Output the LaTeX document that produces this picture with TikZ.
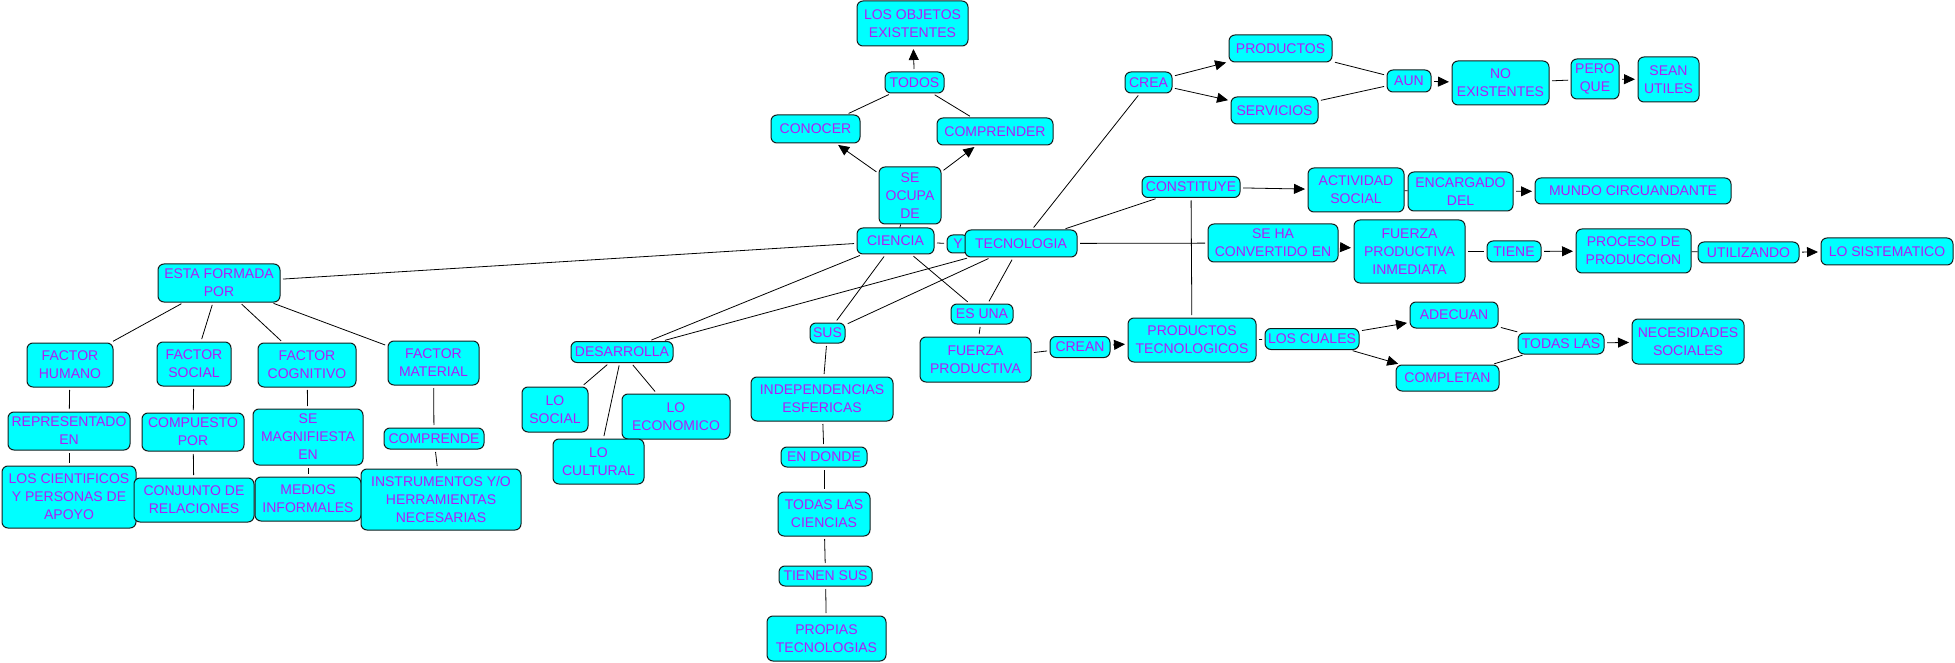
\documentclass[tikz,border=0pt]{standalone}
\usepackage{fontspec}
\setmainfont{Liberation Sans}
\usetikzlibrary{arrows.meta}
\definecolor{txtpurple}{RGB}{175,30,245}
\definecolor{boxfill}{RGB}{0,255,255}
\definecolor{boxline}{RGB}{20,30,30}
\tikzset{
  box/.style={draw=boxline, fill=boxfill, line width=1pt, rounded corners=6pt,
    inner sep=0pt, align=center, text=txtpurple,
    font=\fontsize{14}{18}\selectfont},
  conn/.style={line width=0.8pt, draw=black, shorten <=2.5pt, shorten >=2.5pt},
  tight/.style={line width=0.8pt, draw=black, shorten <=0pt, shorten >=0pt},
  arr/.style={conn, -{Triangle[length=11pt,width=10pt]}},
}
\begin{document}
\begin{tikzpicture}[x=1pt,y=-1pt]
\useasboundingbox (0,0) rectangle (1955,663);
% top: ciencia
\node[box, minimum width=111pt, minimum height=45pt] (objetos) at (912.5,23.5) {LOS OBJETOS\\EXISTENTES};
\node[box, minimum width=59pt, minimum height=21pt] (todos) at (914.5,82.5) {TODOS};
\node[box, minimum width=89pt, minimum height=28pt] (conocer) at (815.5,129) {CONOCER};
\node[box, minimum width=116pt, minimum height=27pt] (comprender) at (995,131.5) {COMPRENDER};
\node[box, minimum width=62pt, minimum height=57pt] (seocupa) at (910,195.5) {SE\\OCUPA\\DE};
\node[box, minimum width=77pt, minimum height=26pt] (ciencia) at (895.5,241) {CIENCIA};
\node[box, minimum width=22pt, minimum height=18pt] (y) at (958,244) {Y};
\node[box, minimum width=112pt, minimum height=27pt] (tecnologia) at (1021,243.5) {TECNOLOGIA};
% left branch
\node[box, minimum width=122pt, minimum height=38pt] (esta) at (219,283) {ESTA FORMADA\\POR};
\node[box, minimum width=86pt, minimum height=44pt] (fhumano) at (70,365) {FACTOR\\HUMANO};
\node[box, minimum width=74pt, minimum height=44pt] (fsocial) at (194,364) {FACTOR\\SOCIAL};
\node[box, minimum width=98pt, minimum height=44pt] (fcognitivo) at (307,365) {FACTOR\\COGNITIVO};
\node[box, minimum width=91pt, minimum height=44pt] (fmaterial) at (433.5,363) {FACTOR\\MATERIAL};
\node[box, minimum width=122pt, minimum height=38pt] (representado) at (69,431) {REPRESENTADO\\EN};
\node[box, minimum width=102pt, minimum height=38pt] (compuesto) at (193,432) {COMPUESTO\\POR};
\node[box, minimum width=110pt, minimum height=56pt] (magnifiesta) at (308,437) {SE\\MAGNIFIESTA\\EN};
\node[box, minimum width=100pt, minimum height=21pt] (comprende) at (434,438.5) {COMPRENDE};
\node[box, minimum width=134pt, minimum height=62pt] (cientificos) at (69,497) {LOS CIENTIFICOS\\Y PERSONAS DE\\APOYO};
\node[box, minimum width=120pt, minimum height=44pt] (conjunto) at (194,500) {CONJUNTO DE\\RELACIONES};
\node[box, minimum width=106pt, minimum height=44pt] (medios) at (308,499) {MEDIOS\\INFORMALES};
\node[box, minimum width=160pt, minimum height=61pt] (instrumentos) at (441,499.5) {INSTRUMENTOS Y/O\\HERRAMIENTAS\\NECESARIAS};
% middle
\node[box, minimum width=102pt, minimum height=21pt] (desarrolla) at (622,352) {DESARROLLA};
\node[box, minimum width=66pt, minimum height=45pt] (losocial) at (555,409.5) {LO\\SOCIAL};
\node[box, minimum width=108pt, minimum height=45pt] (loeconomico) at (676,416.5) {LO\\ECONOMICO};
\node[box, minimum width=91pt, minimum height=45pt] (locultural) at (598.5,461.5) {LO\\CULTURAL};
\node[box, minimum width=35pt, minimum height=20pt] (sus) at (827.5,333) {SUS};
\node[box, minimum width=142pt, minimum height=44pt] (indep) at (822,399) {INDEPENDENCIAS\\ESFERICAS};
\node[box, minimum width=86pt, minimum height=20pt] (endonde) at (824,457) {EN DONDE};
\node[box, minimum width=92pt, minimum height=44pt] (todasciencias) at (824,514) {TODAS LAS\\CIENCIAS};
\node[box, minimum width=93pt, minimum height=20pt] (tienensus) at (825.5,576) {TIENEN SUS};
\node[box, minimum width=119pt, minimum height=45pt] (propias) at (826.5,638.5) {PROPIAS\\TECNOLOGIAS};
% right: crea
\node[box, minimum width=47pt, minimum height=21pt] (crea) at (1148.5,82.5) {CREA};
\node[box, minimum width=103pt, minimum height=27pt] (productos) at (1280.5,48.5) {PRODUCTOS};
\node[box, minimum width=87pt, minimum height=27pt] (servicios) at (1274.5,110.5) {SERVICIOS};
\node[box, minimum width=44pt, minimum height=22pt] (aun) at (1409,81) {AUN};
\node[box, minimum width=97pt, minimum height=44pt] (noexist) at (1500.5,83) {NO\\EXISTENTES};
\node[box, minimum width=48pt, minimum height=40pt] (peroque) at (1595,79) {PERO\\QUE};
\node[box, minimum width=61pt, minimum height=45pt] (sean) at (1668.5,79.5) {SEAN\\UTILES};
% right: constituye
\node[box, minimum width=98pt, minimum height=21pt] (constituye) at (1191,187) {CONSTITUYE};
\node[box, minimum width=96pt, minimum height=44pt] (actividad) at (1356,190) {ACTIVIDAD\\SOCIAL};
\node[box, minimum width=105pt, minimum height=39pt] (encargado) at (1460.5,191.5) {ENCARGADO\\DEL};
\node[box, minimum width=196pt, minimum height=26pt] (mundo) at (1633,191) {MUNDO CIRCUANDANTE};
% right: se ha convertido
\node[box, minimum width=130pt, minimum height=38pt] (sehaconv) at (1273,243) {SE HA\\CONVERTIDO EN};
\node[box, minimum width=111pt, minimum height=63pt] (fpi) at (1409.5,251.5) {FUERZA\\PRODUCTIVA\\INMEDIATA};
\node[box, minimum width=54pt, minimum height=21pt] (tiene) at (1514,251.5) {TIENE};
\node[box, minimum width=115pt, minimum height=44pt] (proceso) at (1633.5,251) {PROCESO DE\\PRODUCCION};
\node[box, minimum width=101pt, minimum height=21pt] (utilizando) at (1748.5,252.5) {UTILIZANDO};
\node[box, minimum width=132pt, minimum height=27pt] (sistematico) at (1887,251.5) {LO SISTEMATICO};
% right: es una
\node[box, minimum width=62pt, minimum height=20pt] (esuna) at (982,314) {ES UNA};
\node[box, minimum width=111pt, minimum height=45pt] (fuerzaprod) at (975.5,359.5) {FUERZA\\PRODUCTIVA};
\node[box, minimum width=60pt, minimum height=21pt] (crean) at (1080,347) {CREAN};
\node[box, minimum width=128pt, minimum height=44pt] (prodtec) at (1192,340) {PRODUCTOS\\TECNOLOGICOS};
\node[box, minimum width=94pt, minimum height=21pt] (loscuales) at (1312,339) {LOS CUALES};
\node[box, minimum width=88pt, minimum height=26pt] (adecuan) at (1454,315) {ADECUAN};
\node[box, minimum width=103pt, minimum height=26pt] (completan) at (1447.5,378) {COMPLETAN};
\node[box, minimum width=86pt, minimum height=21pt] (todaslas) at (1561,343.5) {TODAS LAS};
\node[box, minimum width=112pt, minimum height=45pt] (necesidades) at (1688,341.5) {NECESIDADES\\SOCIALES};
% connectors: plain lines
\draw[tight] (ciencia) -- (seocupa);
\draw[conn] (ciencia) -- (y);
\draw[conn] (conocer) -- (todos);
\draw[conn] (comprender) -- (todos);
\draw[conn] (ciencia) -- (esta);
\draw[conn] (esta) -- (fhumano);
\draw[conn] (esta) -- (fsocial);
\draw[conn] (esta) -- (fcognitivo);
\draw[conn] (esta) -- (fmaterial);
\draw[conn] (fhumano) -- (representado);
\draw[conn] (representado) -- (cientificos);
\draw[conn] (fsocial) -- (compuesto);
\draw[conn] (compuesto) -- (conjunto);
\draw[conn] (fcognitivo) -- (magnifiesta);
\draw[conn] (magnifiesta) -- (medios);
\draw[conn] (fmaterial) -- (comprende);
\draw[conn] (comprende) -- (instrumentos);
\draw[conn] (ciencia) -- (desarrolla);
\draw[conn] (tecnologia) -- (desarrolla);
\draw[conn] (ciencia) -- (sus);
\draw[conn] (tecnologia) -- (sus);
\draw[conn] (ciencia) -- (esuna);
\draw[conn] (tecnologia) -- (esuna);
\draw[conn] (desarrolla) -- (losocial);
\draw[conn] (desarrolla) -- (locultural);
\draw[conn] (desarrolla) -- (loeconomico);
\draw[conn] (sus) -- (indep);
\draw[conn] (indep) -- (endonde);
\draw[conn] (endonde) -- (todasciencias);
\draw[conn] (todasciencias) -- (tienensus);
\draw[conn] (tienensus) -- (propias);
\draw[conn] (esuna) -- (fuerzaprod);
\draw[conn] (fuerzaprod) -- (crean);
\draw[conn] (prodtec) -- (loscuales);
\draw[conn] (adecuan) -- (todaslas);
\draw[conn] (completan) -- (todaslas);
\draw[conn] (tecnologia) -- (crea);
\draw[conn] (productos) -- (aun);
\draw[conn] (servicios) -- (aun);
\draw[conn] (noexist) -- (peroque);
\draw[conn] (tecnologia) -- (constituye);
\draw[tight] (actividad) -- (encargado);
\draw[conn] (constituye) -- (prodtec);
\draw[conn] (tecnologia) -- (sehaconv);
\draw[conn] (fpi) -- (tiene);
\draw[tight] (proceso) -- (utilizando);
% connectors: arrows
\draw[arr] (seocupa) -- (conocer);
\draw[arr] (seocupa) -- (comprender);
\draw[arr] (todos) -- (objetos);
\draw[arr] (crean) -- (prodtec);
\draw[arr] (loscuales) -- (adecuan);
\draw[arr] (loscuales) -- (completan);
\draw[arr] (todaslas) -- (necesidades);
\draw[arr] (crea) -- (productos);
\draw[arr] (crea) -- (servicios);
\draw[arr] (aun) -- (noexist);
\draw[arr] (peroque) -- (sean);
\draw[arr] (constituye) -- (actividad);
\draw[arr] (encargado) -- (mundo);
\draw[arr] (sehaconv) -- (fpi);
\draw[arr] (tiene) -- (proceso);
\draw[arr] (utilizando) -- (sistematico);
\end{tikzpicture}
\end{document}
